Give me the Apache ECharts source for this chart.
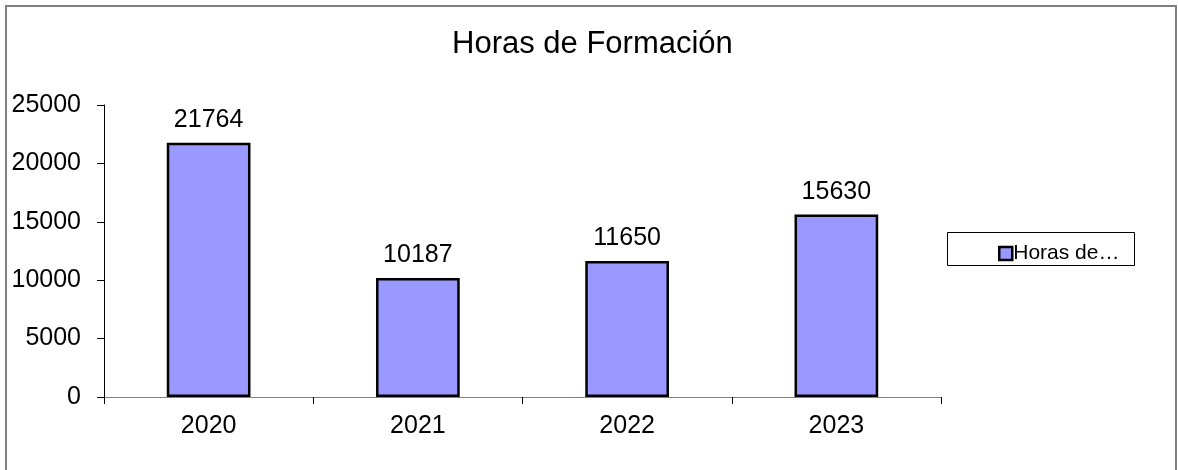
<!DOCTYPE html>
<html>
<head>
<meta charset="utf-8">
<script src="https://cdn.jsdelivr.net/npm/echarts@6/dist/echarts.min.js"></script>
<style>
html,body{margin:0;padding:0;background:#fff;}
#chart{width:1178px;height:470px;}
</style>
</head>
<body>
<div id="chart"></div>
<script>
var years=['2020','2021','2022','2023'];
var horas=[21764,10187,11650,15630];
var yTicks=[0,5000,10000,15000,20000,25000];

var font='"Liberation Sans", Arial, sans-serif';
var chart=echarts.init(document.getElementById('chart'));
var option={
	animation:false,
	textStyle:{fontFamily:font},
	title:{
		text:'Horas de Formación',
		left:447,
		top:24,
		textStyle:{fontFamily:font,fontSize:31,fontWeight:'normal',color:'#000'}
	},
	graphic:[{
		type:'rect',
		shape:{x:6,y:6,width:1170,height:480},
		style:{fill:'none',stroke:'#808080',lineWidth:2},
		silent:true
	},{
		type:'rect',
		shape:{x:947.5,y:232.5,width:187,height:33},
		style:{fill:'#fff',stroke:'#000',lineWidth:1},
		silent:true,
		z:-1
	}],
	legend:{
		left:993,
		top:238,
		itemWidth:13,
		itemHeight:13,
		icon:'rect',
		itemGap:0,
		formatter:function(name){return 'Horas de…';},
		textStyle:{fontFamily:font,fontSize:21,color:'#000',padding:[0,0,0,-4]},
		itemStyle:{color:'#9999ff',borderColor:'#000',borderWidth:2.5}
	},
	grid:{left:104,right:237,top:105,bottom:73},
	xAxis:{
		type:'category',
		data:years,
		axisLine:{lineStyle:{color:'#808080',width:1}},
		axisTick:{show:true,length:7,lineStyle:{color:'#000'}},
		axisLabel:{fontFamily:font,fontSize:25,color:'#000',margin:17}
	},
	yAxis:{
		type:'value',
		min:yTicks[0],
		max:yTicks[yTicks.length-1],
		interval:5000,
		splitLine:{show:false},
		axisLine:{show:true,lineStyle:{color:'#000',width:1}},
		axisTick:{show:true,length:7,lineStyle:{color:'#000'}},
		axisLabel:{fontFamily:font,fontSize:25,color:'#000',margin:23,
			formatter:function(v){return String(v);}}
	},
	series:[{
		name:'Horas de Formación',
		type:'bar',
		data:horas,
		barWidth:'40%',
		itemStyle:{color:'#9999ff',borderColor:'#000',borderWidth:2.5},
		label:{show:true,position:'top',distance:10,fontFamily:font,fontSize:25,color:'#000'}
	}]
};
chart.setOption(option);
</script>
</body>
</html>
